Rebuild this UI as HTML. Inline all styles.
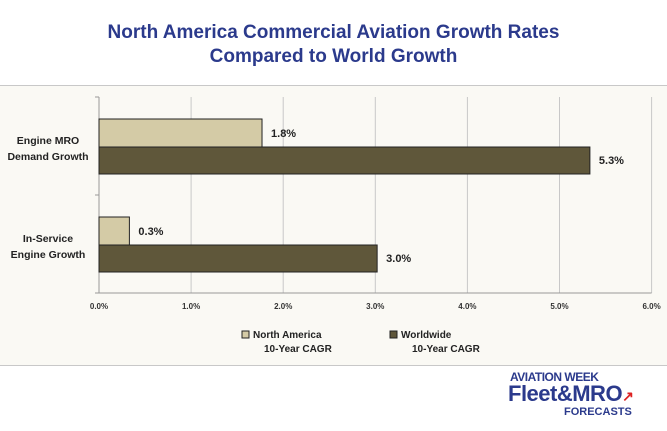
<!DOCTYPE html>
<html><head><meta charset="utf-8"><style>
body{margin:0;width:667px;height:431px;background:#fff;font-family:"Liberation Sans",sans-serif;overflow:hidden;position:relative}
.t{position:absolute;left:0;width:667px;text-align:center;color:#2b3a8c;font-weight:bold;font-size:19px;line-height:24px}
</style></head><body>
<div class="t" style="top:21px">North America Commercial Aviation Growth Rates<br>Compared to World Growth</div>
<div style="position:absolute;left:0;top:85px;width:667px;height:279px;background:#faf9f4;border-top:1px solid #c8c8c8;border-bottom:1px solid #c8c8c8"></div>
<svg id="c" width="667" height="431" style="position:absolute;left:0;top:0"></svg>
<div style="position:absolute;left:510px;top:370px;color:#2b3a8c;font-weight:bold">
<div style="font-size:12px;letter-spacing:-0.5px">AVIATION WEEK</div>
<div style="font-size:22px;line-height:20px;margin-left:-2px;letter-spacing:-0.5px">Fleet&amp;MRO<span style="color:#d22;font-size:14px">↗</span></div>
<div style="font-size:11px;margin-left:54px">FORECASTS</div></div>
<script>
const categories=["Engine MRO\nDemand Growth","In-Service\nEngine Growth"];
const northAmerica=[1.77,0.33];
const worldwide=[5.33,3.02];
const ticks=[0,1,2,3,4,5,6];
const NS="http://www.w3.org/2000/svg",svg=document.getElementById('c');
const x=v=>99+v*92.1, top0=97, bandH=98;
function el(t,a,txt){const e=document.createElementNS(NS,t);for(const k in a)e.setAttribute(k,a[k]);if(txt!=null)e.textContent=txt;svg.appendChild(e);return e;}
ticks.forEach(t=>{
 const g=el('line',{x1:x(t),x2:x(t),y1:top0,y2:293,stroke:t?'#c8c8c8':'#999'});
 
 const l=el('text',{x:x(t),y:309,'text-anchor':'middle','font-size':8,'font-weight':'bold',fill:'#333'},t.toFixed(1)+'%');
 
});
el('line',{x1:95,x2:x(6),y1:293,y2:293,stroke:'#999'});
[0,1,2].forEach(i=>el('line',{x1:95,x2:99,y1:top0+i*bandH,y2:top0+i*bandH,stroke:'#999'}));
categories.forEach((c,i)=>{
 const y0=top0+i*bandH;
 const a=el('rect',{x:x(0),y:y0+22,width:x(northAmerica[i])-x(0),height:28,fill:'#d4cba6',stroke:'#222','stroke-width':1});
 
 const b=el('rect',{x:x(0),y:y0+50,width:x(worldwide[i])-x(0),height:27,fill:'#5f573a',stroke:'#222','stroke-width':1});
 
 const la=el('text',{x:x(northAmerica[i])+9,y:y0+40,'font-size':11,'font-weight':'bold',fill:'#222'},northAmerica[i].toFixed(1)+'%');
 
 const lb=el('text',{x:x(worldwide[i])+9,y:y0+67,'font-size':11,'font-weight':'bold',fill:'#222'},worldwide[i].toFixed(1)+'%');
 
 c.split('\n').forEach((s,j)=>{const t=el('text',{x:48,y:y0+47+j*16,'text-anchor':'middle','font-size':10.5,'font-weight':'bold',fill:'#222'},s);
 });
});
[[242,'#d4cba6','North America'],[390,'#5f573a','Worldwide']].forEach(([lx,f,n])=>{
 const r=el('rect',{x:lx,y:331,width:7,height:7,fill:f,stroke:'#222'});
 const t1=el('text',{x:lx+11,y:338,'font-size':10,'font-weight':'bold',fill:'#222'},n);
 const t2=el('text',{x:lx+22,y:352,'font-size':10,'font-weight':'bold',fill:'#222'},'10-Year CAGR');
});
</script>
</body></html>
